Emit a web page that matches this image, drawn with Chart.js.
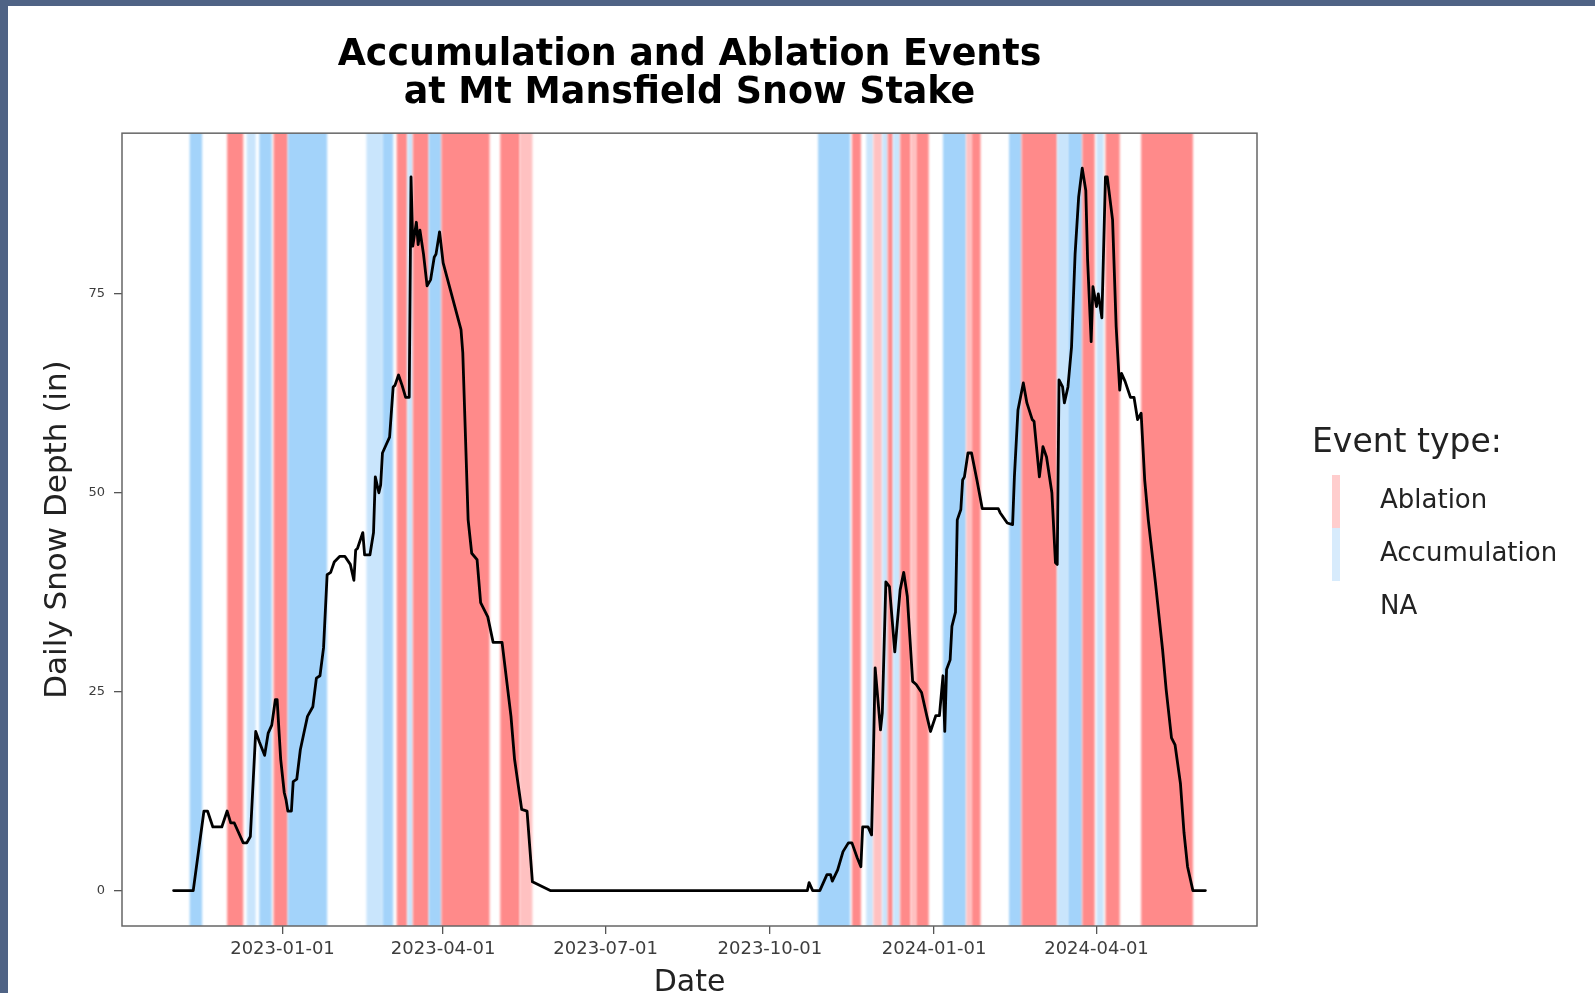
<!DOCTYPE html>
<html>
<head>
<meta charset="utf-8">
<title>Accumulation and Ablation Events at Mt Mansfield Snow Stake</title>
<script src="https://cdn.jsdelivr.net/npm/chart.js@4.4.1/dist/chart.umd.min.js"></script>
<style>
  html, body { margin: 0; padding: 0; background: #4f6385; overflow: hidden; }
  #wrap { position: absolute; left: 8px; top: 6px; width: 1587px; height: 987px; background: #ffffff; }
  canvas { display: block; }
</style>
</head>
<body>
<div id="wrap"><canvas id="chart" width="1587" height="987"></canvas></div>
<script>
// Daily snow depth at the stake (inches), sampled at the turning points of the record
const depthDates = [
  '2022-11-01','2022-11-12','2022-11-18','2022-11-20','2022-11-23','2022-11-28','2022-12-01','2022-12-03',
  '2022-12-05','2022-12-10','2022-12-12','2022-12-14','2022-12-17','2022-12-19','2022-12-22','2022-12-24',
  '2022-12-26','2022-12-28','2022-12-29','2022-12-31','2023-01-02','2023-01-03','2023-01-04','2023-01-06',
  '2023-01-07','2023-01-09','2023-01-11','2023-01-13','2023-01-15','2023-01-18','2023-01-20','2023-01-22',
  '2023-01-24','2023-01-26','2023-01-28','2023-01-30','2023-02-02','2023-02-05','2023-02-08','2023-02-10',
  '2023-02-11','2023-02-12','2023-02-15','2023-02-16','2023-02-19','2023-02-21','2023-02-22','2023-02-24',
  '2023-02-25','2023-02-26','2023-02-28','2023-03-02','2023-03-04','2023-03-05','2023-03-07','2023-03-09',
  '2023-03-11','2023-03-13','2023-03-14','2023-03-15','2023-03-17','2023-03-18','2023-03-19','2023-03-21',
  '2023-03-23','2023-03-25','2023-03-27','2023-03-28','2023-03-30','2023-04-01','2023-04-11','2023-04-12',
  '2023-04-15','2023-04-17','2023-04-20','2023-04-22','2023-04-26','2023-04-29','2023-05-04','2023-05-09',
  '2023-05-11','2023-05-15','2023-05-18','2023-05-21','2023-05-31',
  '2023-10-22','2023-10-23','2023-10-25','2023-10-29','2023-11-02','2023-11-04','2023-11-05','2023-11-08',
  '2023-11-11','2023-11-14','2023-11-16','2023-11-19','2023-11-21','2023-11-22','2023-11-25','2023-11-27',
  '2023-11-28','2023-11-29','2023-12-02','2023-12-03','2023-12-05','2023-12-07','2023-12-10','2023-12-13',
  '2023-12-15','2023-12-17','2023-12-20','2023-12-22','2023-12-25','2023-12-28','2023-12-30','2024-01-02',
  '2024-01-04','2024-01-06','2024-01-07','2024-01-08','2024-01-10','2024-01-11','2024-01-13','2024-01-14',
  '2024-01-16','2024-01-17','2024-01-18','2024-01-20','2024-01-22','2024-01-25','2024-01-28','2024-02-06',
  '2024-02-07','2024-02-11','2024-02-14','2024-02-15','2024-02-17','2024-02-20','2024-02-22','2024-02-25',
  '2024-02-26','2024-02-29','2024-03-02','2024-03-04','2024-03-07','2024-03-09','2024-03-10','2024-03-11',
  '2024-03-13','2024-03-14','2024-03-16','2024-03-18','2024-03-20','2024-03-22','2024-03-24','2024-03-26',
  '2024-03-27','2024-03-29','2024-03-30','2024-04-01','2024-04-02','2024-04-04','2024-04-06','2024-04-07',
  '2024-04-10','2024-04-12','2024-04-14','2024-04-15','2024-04-17','2024-04-20','2024-04-22','2024-04-24',
  '2024-04-26','2024-04-28','2024-04-30','2024-05-04','2024-05-08','2024-05-10','2024-05-13','2024-05-15',
  '2024-05-18','2024-05-20','2024-05-22','2024-05-25','2024-06-01'
];
const depthValues = [
  0, 0, 10, 10, 8, 8, 10, 8.5,
  8.5, 6, 6, 6.8, 20, 18.7, 17, 19.8,
  20.8, 24, 24, 16.5, 12.3, 11.4, 10, 10,
  13.7, 14, 17.7, 19.8, 21.9, 23.1, 26.7, 27,
  30.5, 39.7, 40, 41.3, 42, 42, 41, 39,
  42.8, 43, 45, 42.2, 42.2, 45, 52, 50,
  51, 55, 56, 57, 63.3, 63.5, 64.8, 63.5,
  62, 62, 89.7, 81, 84, 81.2, 83, 80,
  76, 76.8, 79.6, 80, 82.8, 78.9, 70.5, 67.6,
  46.6, 42.4, 41.6, 36.2, 34.4, 31.2, 31.2, 21.9,
  16.5, 10.2, 10, 1.1, 0,
  0, 1, 0, 0, 2, 2, 1.2, 2.6,
  4.9, 6, 6, 4.1, 3, 8, 8, 7,
  16.8, 28, 20.2, 22.3, 38.8, 38.2, 30, 37.8,
  40, 37, 26.3, 25.9, 24.9, 21.9, 20, 22,
  22, 27, 20, 27.8, 29, 33.2, 35, 46.6,
  47.9, 51.6, 52, 55, 55, 51.6, 48, 48,
  47.5, 46.2, 46, 52, 60.4, 63.8, 61.3, 59.2,
  59, 52, 55.8, 54.5, 50, 41.2, 41, 64.2,
  63.3, 61.3, 63.3, 68.3, 80, 87.2, 90.8, 88,
  79.3, 69, 75.9, 73.4, 75, 72, 89.7, 89.7,
  84.3, 70.9, 62.9, 65, 64, 62, 62, 59.2,
  60, 51.6, 46.6, 38.7, 30.3, 25.3, 19.2, 18.3,
  13.5, 7.3, 3, 0, 0
];

// Event periods shaded behind the depth line
const bandStarts = [
  '2022-11-10','2022-12-01','2022-12-12','2022-12-19','2022-12-27','2023-01-04','2023-02-17','2023-02-26',
  '2023-03-06','2023-03-12','2023-03-15','2023-03-24','2023-03-31','2023-05-03','2023-05-14',
  '2023-10-28','2023-11-16','2023-11-24','2023-11-28','2023-12-03','2023-12-06','2023-12-09','2023-12-13',
  '2023-12-19','2023-12-22','2024-01-06','2024-01-19','2024-01-22','2024-02-12','2024-02-19','2024-03-10',
  '2024-03-16','2024-03-24','2024-04-01','2024-04-06','2024-04-26'
];
const bandEnds = [
  '2022-11-17','2022-12-10','2022-12-17','2022-12-26','2023-01-04','2023-01-26','2023-02-26','2023-03-04',
  '2023-03-12','2023-03-15','2023-03-24','2023-03-31','2023-04-27','2023-05-14','2023-05-21',
  '2023-11-15','2023-11-21','2023-11-28','2023-12-03','2023-12-06','2023-12-09','2023-12-13','2023-12-19',
  '2023-12-22','2023-12-29','2024-01-19','2024-01-22','2024-01-27','2024-02-19','2024-03-10','2024-03-16',
  '2024-03-24','2024-03-31','2024-04-05','2024-04-14','2024-05-25'
];
// 'abl' = ablation, 'acc' = accumulation; a trailing '-' marks a fainter (shorter/partial) event
const bandKinds = [
  'acc','abl','acc-','acc','abl','acc','acc-','acc',
  'abl','acc-','abl','acc','abl','abl','abl-',
  'acc','abl','acc-','abl-','acc-','abl','acc-','abl',
  'abl-','abl','acc','abl-','abl','acc','abl','acc-',
  'acc','abl','acc-','abl','abl'
];

const xTickLabels = ['2023-01-01','2023-04-01','2023-07-01','2023-10-01','2024-01-01','2024-04-01'];
const yTickValues = [0, 25, 50, 75];
const legendLabels = ['Ablation', 'Accumulation', 'NA'];

const kindColors = { 'abl': '#ff8a8a', 'abl-': '#ffc1c1', 'acc': '#a3d3fa', 'acc-': '#c9e5fc' };
const legendColors = ['#ffcdcd', '#d7ebfc', null];

const DAY = 86400000;
const ORIGIN = Date.UTC(2023, 0, 1);
function dayNum(s) {
  const [y, m, d] = s.split('-').map(Number);
  return (Date.UTC(y, m - 1, d) - ORIGIN) / DAY;
}

const firstDay = dayNum(depthDates[0]);
const lastDay = dayNum(depthDates[depthDates.length - 1]);
const span = lastDay - firstDay;
const xMin = firstDay - 0.05 * span;
const xMax = lastDay + 0.05 * span;

const points = depthDates.map((d, i) => ({ x: dayNum(d), y: depthValues[i] }));

const FONT = '"DejaVu Sans", Verdana, sans-serif';

const bandsPlugin = {
  id: 'eventBands',
  beforeDatasetsDraw(chart) {
    const { ctx, chartArea: a, scales: { x } } = chart;
    ctx.save();
    ctx.beginPath();
    ctx.rect(a.left, a.top, a.right - a.left, a.bottom - a.top);
    ctx.clip();
    ctx.filter = 'blur(1.2px)';
    bandStarts.forEach((s, i) => {
      const x1 = x.getPixelForValue(dayNum(s));
      const x2 = x.getPixelForValue(dayNum(bandEnds[i]));
      ctx.fillStyle = kindColors[bandKinds[i]];
      ctx.fillRect(x1, a.top - 10, x2 - x1, a.bottom - a.top + 20);
    });
    ctx.restore();
  }
};

const framePlugin = {
  id: 'panelFrame',
  afterDatasetsDraw(chart) {
    const { ctx, chartArea: a } = chart;
    ctx.save();
    ctx.strokeStyle = '#666666';
    ctx.lineWidth = 1.5;
    ctx.strokeRect(a.left, a.top, a.right - a.left, a.bottom - a.top);
    ctx.restore();
  }
};

const legendPlugin = {
  id: 'eventLegend',
  afterDraw(chart) {
    const { ctx, chartArea: a } = chart;
    const left = a.right + 55;
    ctx.save();
    ctx.fillStyle = '#222222';
    ctx.textBaseline = 'middle';
    ctx.textAlign = 'left';
    ctx.font = '33px ' + FONT;
    ctx.fillText('Event type:', left, 437);
    const rowTop = 469, rowH = 53;
    ctx.font = '26px ' + FONT;
    legendLabels.forEach((lab, i) => {
      const top = rowTop + i * rowH;
      if (legendColors[i]) {
        ctx.fillStyle = legendColors[i];
        ctx.fillRect(left + 20, top, 8, rowH);
      }
      ctx.fillStyle = '#222222';
      ctx.fillText(lab, left + 68, top + rowH / 2);
    });
    ctx.restore();
  }
};

new Chart(document.getElementById('chart'), {
  type: 'line',
  data: {
    datasets: [{
      label: 'Daily Snow Depth',
      data: points,
      borderColor: '#000000',
      borderWidth: 2.8,
      borderJoinStyle: 'round',
      borderCapStyle: 'round',
      pointRadius: 0,
      tension: 0,
      fill: false
    }]
  },
  options: {
    responsive: false,
    animation: false,
    layout: { padding: { left: 0, right: 338, top: 0, bottom: 0 } },
    plugins: {
      legend: { display: false },
      tooltip: { enabled: false },
      title: {
        display: true,
        fullSize: false,
        text: ['Accumulation and Ablation Events', 'at Mt Mansfield Snow Stake'],
        color: '#000000',
        font: { family: FONT, size: 36.4, weight: 'bold', lineHeight: 1.06 },
        padding: { top: 30, bottom: 20 }
      }
    },
    scales: {
      x: {
        type: 'linear',
        min: xMin,
        max: xMax,
        afterBuildTicks(scale) {
          scale.ticks = xTickLabels.map(t => ({ value: dayNum(t) }));
        },
        afterFit(scale) { scale.height = 67; },
        border: { display: false },
        grid: { drawOnChartArea: false, drawTicks: true, tickLength: 8, color: '#555555', lineWidth: 1.3 },
        ticks: {
          autoSkip: false,
          maxRotation: 0,
          padding: 5,
          color: '#3d3d3d',
          font: { family: FONT, size: 18 },
          callback(value) {
            const i = xTickLabels.findIndex(t => dayNum(t) === value);
            return i >= 0 ? xTickLabels[i] : '';
          }
        },
        title: {
          display: true,
          text: 'Date',
          color: '#222222',
          font: { family: FONT, size: 30, lineHeight: 0.67 },
          padding: 0
        }
      },
      y: {
        type: 'linear',
        min: -4.45,
        max: 95.2,
        afterBuildTicks(scale) {
          scale.ticks = yTickValues.map(v => ({ value: v }));
        },
        afterFit(scale) { scale.width = 114; },
        border: { display: false },
        grid: { drawOnChartArea: false, drawTicks: true, tickLength: 8, color: '#555555', lineWidth: 1.3 },
        ticks: {
          padding: 9,
          color: '#3d3d3d',
          font: { family: FONT, size: 13 }
        },
        title: {
          display: true,
          text: 'Daily Snow Depth (in)',
          color: '#222222',
          font: { family: FONT, size: 31, lineHeight: 1 },
          padding: { top: 34, bottom: 0 }
        }
      }
    }
  },
  plugins: [bandsPlugin, framePlugin, legendPlugin]
});
</script>
</body>
</html>
